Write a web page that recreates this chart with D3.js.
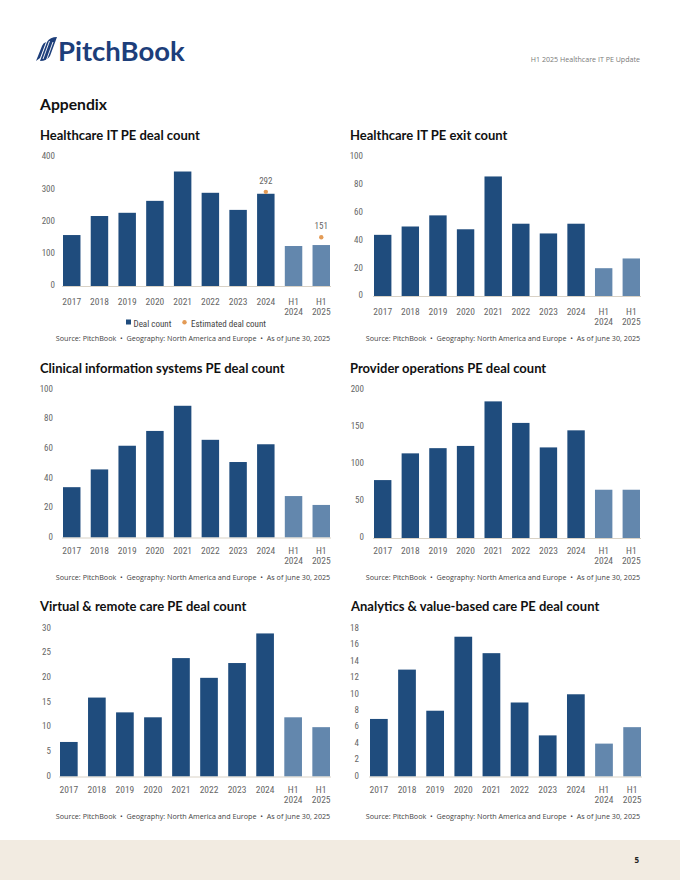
<!DOCTYPE html>
<html><head><meta charset="utf-8">
<script src="https://cdn.jsdelivr.net/npm/d3@7"></script>
<style>
html,body{margin:0;padding:0;background:#fff;}
svg{display:block;}
</style>
</head><body>
<svg id="page" width="680" height="880"></svg>
<script>
// ---- data ----
const categories = ["2017","2018","2019","2020","2021","2022","2023","2024","H1 2024","H1 2025"];
const dealCount      = [158, 217, 227, 264, 355, 289, 236, 286, 124, 127];
const estimatedDeals = [null, null, null, null, null, null, null, 292, null, 151];
const exitCount      = [44, 50, 58, 48, 86, 52, 45, 52, 20, 27];
const clinicalCount  = [34, 46, 62, 72, 89, 66, 51, 63, 28, 22];
const providerCount  = [78, 114, 121, 124, 184, 155, 122, 145, 65, 65];
const virtualCount   = [7, 16, 13, 12, 24, 20, 23, 29, 12, 10];
const analyticsCount = [7, 13, 8, 17, 15, 9, 5, 10, 4, 6];
const ticksDeal      = [0, 100, 200, 300, 400];
const ticksExit      = [0, 20, 40, 60, 80, 100];
const ticksClinical  = [0, 20, 40, 60, 80, 100];
const ticksProvider  = [0, 50, 100, 150, 200];
const ticksVirtual   = [0, 5, 10, 15, 20, 25, 30];
const ticksAnalytics = [0, 2, 4, 6, 8, 10, 12, 14, 16, 18];
const titles = [
  "Healthcare IT PE deal count",
  "Healthcare IT PE exit count",
  "Clinical information systems PE deal count",
  "Provider operations PE deal count",
  "Virtual & remote care PE deal count",
  "Analytics & value-based care PE deal count"
];
const legendLabels = ["Deal count", "Estimated deal count"];
const sourceText = "Source: PitchBook  \u2022  Geography: North America and Europe  \u2022  As of June 30, 2025";

// ---- styles ----
const DARK = "#1f4c7d", LIGHT = "#6387ad", ORANGE = "#e39b56";
const NARROW = "'Liberation Sans Narrow','Roboto Condensed','DejaVu Sans Condensed',Roboto,sans-serif";
const TITLEF = "Lato,'Open Sans',sans-serif";
const SANS = "'Open Sans',Roboto,sans-serif";
const TICKCOL = "#666";

const svg = d3.select("#page");

// header
const logo = svg.append("g");
logo.append("path")
  .attr("d","M40,61 L47,42 Q50,37 57,37 L50,56 Q47,61 40,61 Z M36,61 L42,46 Q43,43 46,42 L40,58 Z")
  .attr("fill","#1d3e7a");
logo.append("path")
  .attr("d","M43,59 L49.5,41 M46.5,60 L53,42")
  .attr("stroke","#ffffff").attr("stroke-width",0.9).attr("fill","none");
logo.append("text").attr("x",58).attr("y",61).text("PitchBook")
  .attr("font-family",TITLEF).attr("font-weight",700).attr("font-size",27.5)
  .attr("fill","#1d3e7a");

svg.append("text").attr("x",640).attr("y",62).attr("text-anchor","end")
  .text("H1 2025 Healthcare IT PE Update")
  .attr("font-family",SANS).attr("font-size",7.1).attr("fill","#7a7a7a");

svg.append("text").attr("x",40).attr("y",110).text("Appendix")
  .attr("font-family",TITLEF).attr("font-weight",700).attr("font-size",15.7)
  .attr("fill","#111");

// footer
svg.append("rect").attr("x",0).attr("y",840).attr("width",680).attr("height",40).attr("fill","#f2ebe1");
svg.append("text").attr("x",639).attr("y",863).attr("text-anchor","end").text("5")
  .attr("font-family",SANS).attr("font-weight",700).attr("font-size",8).attr("fill","#222");

// panels
const panels = [
  {title:titles[0], values:dealCount, est:estimatedDeals, ticks:ticksDeal, max:400,
   titleX:40, titleY:140, x0:63, x1:330, yTop:157, yBase:286, labelR:55, xLabY:305, srcY:341, srcCx:193, legend:true},
  {title:titles[1], values:exitCount, ticks:ticksExit, max:100,
   titleX:350, titleY:140, x0:374, x1:640, yTop:157, yBase:296, labelR:363, xLabY:315, srcY:341, srcCx:503},
  {title:titles[2], values:clinicalCount, ticks:ticksClinical, max:100,
   titleX:40, titleY:373, x0:63, x1:330, yTop:389.5, yBase:537.5, labelR:53, xLabY:554, srcY:580, srcCx:193},
  {title:titles[3], values:providerCount, ticks:ticksProvider, max:200,
   titleX:350, titleY:373, x0:374, x1:640, yTop:389.5, yBase:538, labelR:364, xLabY:554, srcY:580, srcCx:503},
  {title:titles[4], values:virtualCount, ticks:ticksVirtual, max:30,
   titleX:40, titleY:611, x0:60, x1:330, yTop:628.5, yBase:776.5, labelR:51, xLabY:793, srcY:819, srcCx:193},
  {title:titles[5], values:analyticsCount, ticks:ticksAnalytics, max:18,
   titleX:351, titleY:611, x0:370, x1:641, yTop:628.5, yBase:776.5, labelR:359, xLabY:793, srcY:819, srcCx:503}
];

panels.forEach(p => {
  const g = svg.append("g");
  g.append("text").attr("x",p.titleX).attr("y",p.titleY).text(p.title)
    .attr("font-family",TITLEF).attr("font-weight",700).attr("font-size",13).attr("fill","#111");

  const x = d3.scaleBand().domain(categories).range([p.x0,p.x1]).paddingInner(0.37).paddingOuter(0);
  const y = d3.scaleLinear().domain([0,p.max]).range([p.yBase,p.yTop]);

  // y axis labels
  const yAxis = d3.axisLeft(y).tickValues(p.ticks).tickSize(0).tickPadding(0);
  const ya = g.append("g").attr("transform",`translate(${p.labelR},0)`).call(yAxis);
  ya.select(".domain").remove();
  ya.selectAll("text").attr("font-family",NARROW).attr("font-size",9).attr("fill",TICKCOL).attr("dy","0.2em");

  // bars
  const data = categories.map((c,i)=>({c, v:p.values[i], h1:c.startsWith("H1")}));
  g.selectAll("rect.bar").data(data).enter().append("rect")
    .attr("x",d=>x(d.c)).attr("width",x.bandwidth())
    .attr("y",d=>y(d.v)).attr("height",d=>y(0)-y(d.v))
    .attr("fill",d=>d.h1?LIGHT:DARK);

  // baseline
  g.append("line").attr("x1",p.x0-1).attr("x2",p.x1+1).attr("y1",y(0)+0.5).attr("y2",y(0)+0.5)
    .attr("stroke","#d9d2c6").attr("stroke-width",1);

  // x axis labels
  const xAxis = d3.axisBottom(x).tickSize(0).tickPadding(0).tickFormat("");
  const xa = g.append("g").attr("transform",`translate(0,${p.xLabY})`).call(xAxis);
  xa.select(".domain").remove();
  xa.selectAll(".tick").each(function(d){
    const parts = d.split(" ");
    const t = d3.select(this).append("text").attr("fill",TICKCOL)
      .attr("font-family",NARROW).attr("font-size",9.5).attr("text-anchor","middle");
    parts.forEach((s,i)=>t.append("tspan").attr("x",0).attr("y",i*9.5).text(s));
  });

  // estimated dots
  if (p.est) {
    const ed = categories.map((c,i)=>({c, v:p.est[i]})).filter(d=>d.v!=null);
    g.selectAll("circle.est").data(ed).enter().append("circle")
      .attr("cx",d=>x(d.c)+x.bandwidth()/2).attr("cy",d=>y(d.v)).attr("r",2.2).attr("fill",ORANGE);
    g.selectAll("text.estlab").data(ed).enter().append("text")
      .attr("x",d=>x(d.c)+x.bandwidth()/2).attr("y",d=>y(d.v)-8).attr("text-anchor","middle")
      .text(d=>d.v).attr("font-family",NARROW).attr("font-size",9).attr("fill",TICKCOL);
  }

  // legend
  if (p.legend) {
    const lg = g.append("g").attr("transform",`translate(0,${p.xLabY+19})`);
    lg.append("rect").attr("x",126).attr("y",-4.5).attr("width",5).attr("height",5).attr("fill",DARK);
    lg.append("text").attr("x",133.5).attr("y",0).attr("dy","0.32em").text(legendLabels[0])
      .attr("font-family",NARROW).attr("font-size",9).attr("fill","#444");
    lg.append("circle").attr("cx",184.5).attr("cy",-1.8).attr("r",2.2).attr("fill",ORANGE);
    lg.append("text").attr("x",191).attr("y",0).attr("dy","0.32em").text(legendLabels[1])
      .attr("font-family",NARROW).attr("font-size",9).attr("fill","#444");
  }

  // source
  g.append("text").attr("x",p.srcCx).attr("y",p.srcY).attr("text-anchor","middle")
    .text(sourceText).attr("font-family",SANS).attr("font-size",7.2).attr("fill","#444")
    .attr("xml:space","preserve").style("white-space","pre");
});
</script>
</body></html>
